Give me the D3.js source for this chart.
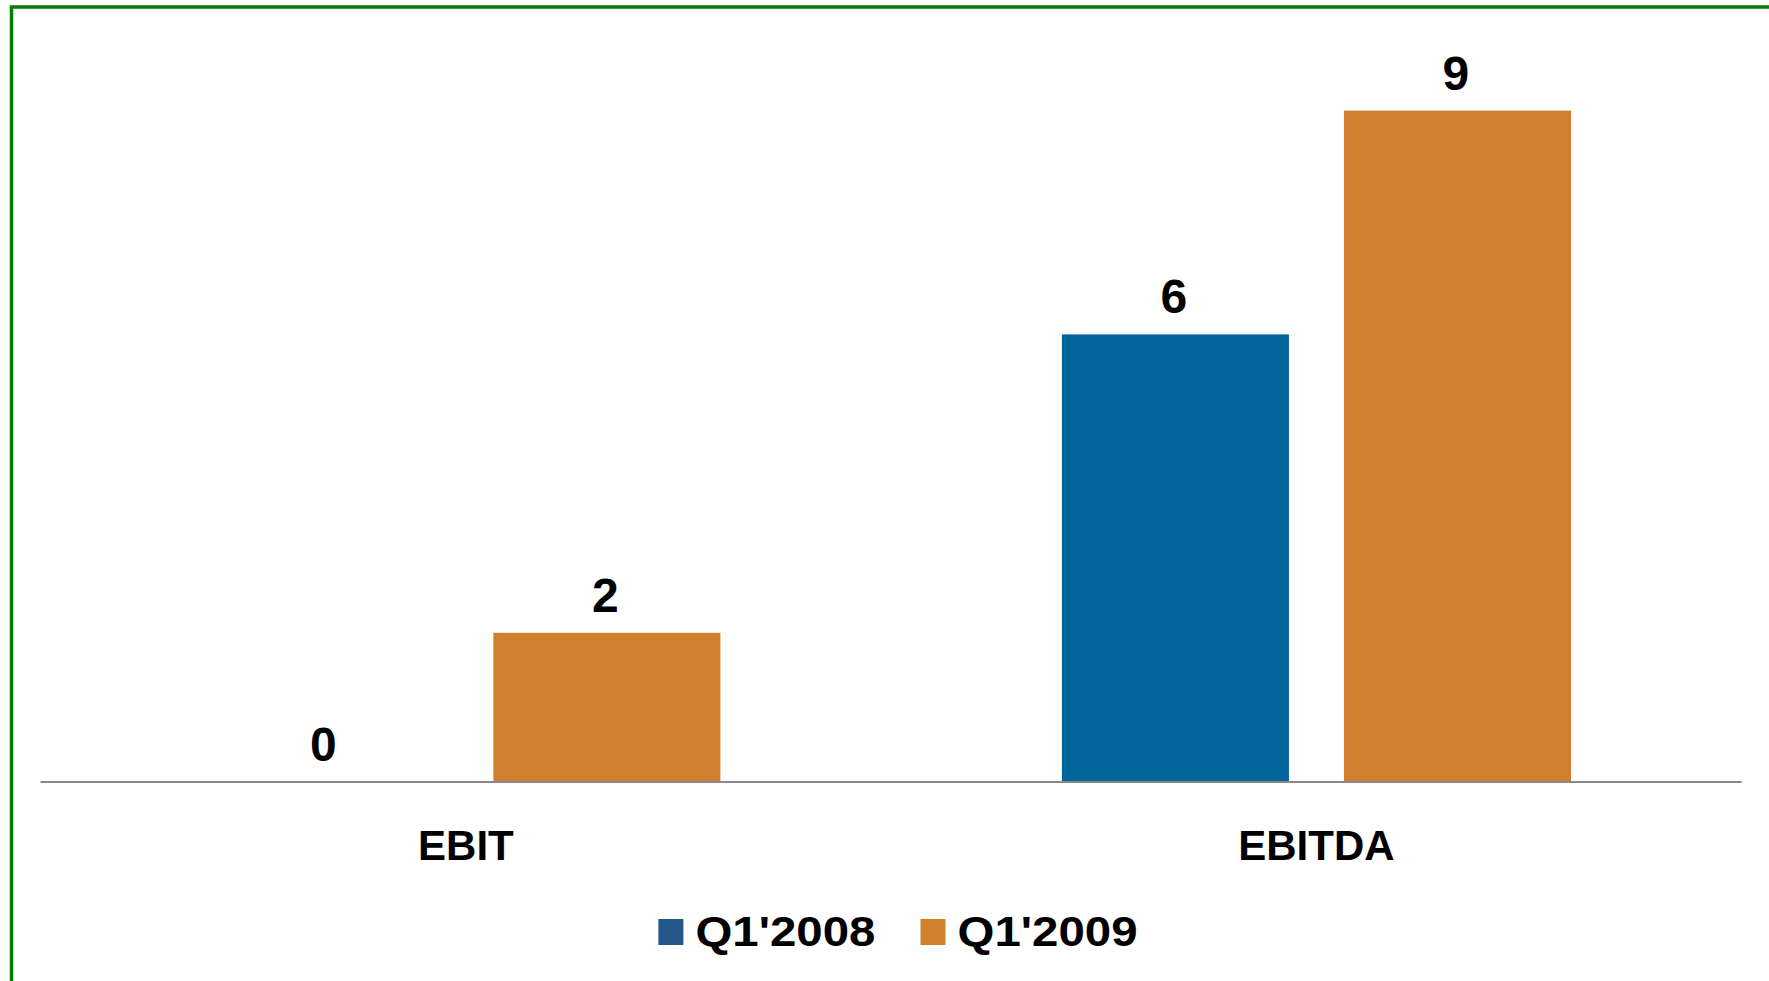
<!DOCTYPE html>
<html>
<head>
<meta charset="utf-8">
<script src="https://cdn.jsdelivr.net/npm/d3@7"></script>
<style>
  html, body { margin: 0; padding: 0; background: #fff; overflow: hidden; }
  text { font-family: "Liberation Sans", Arial, sans-serif; font-weight: bold; fill: #000; }
</style>
</head>
<body>
<div id="chart"></div>
<script>
// Chart data
const categories = ["EBIT", "EBITDA"];
const seriesNames = ["Q1'2008", "Q1'2009"];
const q2008 = [0, 6];
const q2009 = [2, 9];
const barColors = ["#00669a", "#d07f2e"];
const legendColors = ["#25578a", "#d07f2e"];

const width = 1769;
const height = 981;

// plot area
const plotLeft = 40.6, plotRight = 1741.7;
const baseY = 782;

const svg = d3.select("#chart").append("svg")
  .attr("width", width)
  .attr("height", height);

// green frame, runs off the right and bottom edges
svg.append("rect")
  .attr("x", 11.5)
  .attr("y", 7)
  .attr("width", width + 20)
  .attr("height", height + 20)
  .attr("fill", "none")
  .attr("stroke", "#008000")
  .attr("stroke-width", 3.5);

const x0 = d3.scaleBand()
  .domain(categories)
  .range([plotLeft, plotRight])
  .paddingInner(0.4015)
  .paddingOuter(0.2007);

const x1 = d3.scaleBand()
  .domain(seriesNames)
  .range([0, x0.bandwidth()])
  .paddingInner(0.195);

const y = d3.scaleLinear()
  .domain([0, 10])
  .range([baseY, baseY - 746]);

// build rows from the arrays
const rows = categories.map((c, i) => ({
  category: c,
  values: [
    { series: seriesNames[0], value: q2008[i], color: barColors[0] },
    { series: seriesNames[1], value: q2009[i], color: barColors[1] }
  ]
}));

const groups = svg.append("g").selectAll("g")
  .data(rows)
  .join("g")
  .attr("transform", d => `translate(${x0(d.category)},0)`);

groups.selectAll("rect")
  .data(d => d.values)
  .join("rect")
  .attr("x", d => x1(d.series))
  .attr("y", d => y(d.value))
  .attr("width", x1.bandwidth())
  .attr("height", d => y(0) - y(d.value))
  .attr("fill", d => d.color);

groups.selectAll("text.val")
  .data(d => d.values)
  .join("text")
  .attr("class", "val")
  .attr("x", d => x1(d.series) + x1.bandwidth() / 2 - 1.5)
  .attr("y", d => y(d.value) - 21)
  .attr("text-anchor", "middle")
  .style("font-size", "48px")
  .text(d => d3.format("d")(d.value));

// baseline
svg.append("line")
  .attr("x1", plotLeft)
  .attr("x2", plotRight)
  .attr("y1", baseY)
  .attr("y2", baseY)
  .attr("stroke", "#888")
  .attr("stroke-width", 2);

// category labels
const xAxis = d3.axisBottom(d3.scaleBand().domain(categories).range([plotLeft, plotRight]))
  .tickSize(0)
  .tickPadding(0);

const axisG = svg.append("g")
  .attr("transform", `translate(0,${baseY})`)
  .call(xAxis);
axisG.select(".domain").remove();
axisG.selectAll("text")
  .attr("dy", null)
  .attr("y", 78)
  .attr("fill", "#000")
  .style("font-size", "42px")
  .style("font-family", "'Liberation Sans', Arial, sans-serif")
  .style("font-weight", "bold");

// legend
const legend = svg.append("g");
const stretch = 1.13;
let cursor = 0;
seriesNames.forEach((name, i) => {
  const item = legend.append("g").attr("transform", `translate(${cursor},0)`);
  item.append("rect")
    .attr("x", 0)
    .attr("y", 919)
    .attr("width", 25)
    .attr("height", 26)
    .attr("fill", legendColors[i]);
  const t = item.append("text")
    .attr("transform", `translate(37,946) scale(${stretch},1)`)
    .style("font-size", "42px")
    .text(name);
  const w = t.node().getComputedTextLength() * stretch;
  cursor += 37 + w + 45;
});
const legendWidth = cursor - 45;
legend.attr("transform", `translate(${898 - legendWidth / 2},0)`);
</script>
</body>
</html>
